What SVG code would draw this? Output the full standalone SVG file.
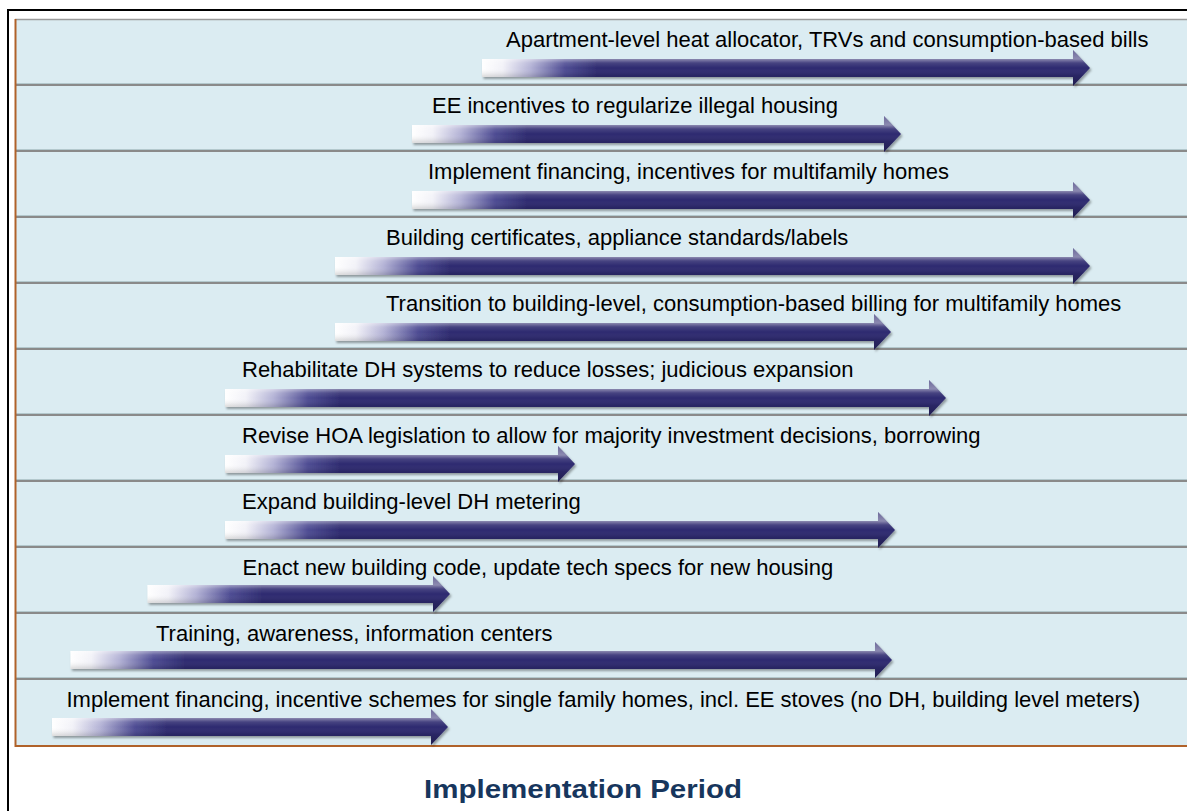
<svg xmlns="http://www.w3.org/2000/svg" width="1187" height="811" viewBox="0 0 1187 811">
<style>
.lbl{font-family:"Liberation Sans",Arial,sans-serif;font-size:22px;fill:#000}
.title{font-family:"Liberation Sans",Arial,sans-serif;font-size:26.5px;font-weight:bold;fill:#17365D}
.sep{stroke:#8A8A8A;stroke-width:2}
.sepl{stroke:#B3C8CD;stroke-width:1}
.arrow{fill:url(#hgrad);filter:url(#shadow)}
.shade{fill:url(#vgrad)}
</style>
<defs>
<linearGradient id="hgrad" gradientUnits="userSpaceOnUse" x1="0" y1="0" x2="115" y2="0">
<stop offset="0" stop-color="#FFFFFF"/>
<stop offset="0.18" stop-color="#F2F2F8"/>
<stop offset="0.42" stop-color="#B4B3D6"/>
<stop offset="0.72" stop-color="#4E4C93"/>
<stop offset="1" stop-color="#2E2B70"/>
</linearGradient>
<linearGradient id="vgrad" gradientUnits="userSpaceOnUse" x1="0" y1="-18" x2="0" y2="18">
<stop offset="0" stop-color="#FFFFFF" stop-opacity="0.3"/>
<stop offset="0.25" stop-color="#FFFFFF" stop-opacity="0.45"/>
<stop offset="0.36" stop-color="#FFFFFF" stop-opacity="0.12"/>
<stop offset="0.5" stop-color="#FFFFFF" stop-opacity="0"/>
<stop offset="0.7" stop-color="#000000" stop-opacity="0.1"/>
<stop offset="1" stop-color="#000000" stop-opacity="0.3"/>
</linearGradient>
<filter id="shadow" x="-5%" y="-40%" width="110%" height="180%">
<feDropShadow dx="1.5" dy="2" stdDeviation="1.2" flood-color="#000" flood-opacity="0.35"/>
</filter>
</defs>

<!-- outer frame -->
<rect x="0" y="0" width="1187" height="811" fill="#FFFFFF"/>
<line x1="8" y1="10" x2="8" y2="811" stroke="#000" stroke-width="2"/>
<line x1="7" y1="10" x2="1187" y2="10" stroke="#000" stroke-width="2"/>

<!-- panel -->
<g id="panel">
<rect x="15" y="19" width="1180" height="727" fill="#DBECF2"/>
<line x1="15" y1="19.5" x2="1187" y2="19.5" stroke="#9A9A9A" stroke-width="1.5"/>
<line class="sepl" x1="16" y1="83.5" x2="1187" y2="83.5"/>
<line class="sep" x1="16" y1="85" x2="1187" y2="85"/>
<line class="sepl" x1="16" y1="149.5" x2="1187" y2="149.5"/>
<line class="sep" x1="16" y1="151" x2="1187" y2="151"/>
<line class="sepl" x1="16" y1="215.5" x2="1187" y2="215.5"/>
<line class="sep" x1="16" y1="217" x2="1187" y2="217"/>
<line class="sepl" x1="16" y1="281.5" x2="1187" y2="281.5"/>
<line class="sep" x1="16" y1="283" x2="1187" y2="283"/>
<line class="sepl" x1="16" y1="347.5" x2="1187" y2="347.5"/>
<line class="sep" x1="16" y1="349" x2="1187" y2="349"/>
<line class="sepl" x1="16" y1="413.5" x2="1187" y2="413.5"/>
<line class="sep" x1="16" y1="415" x2="1187" y2="415"/>
<line class="sepl" x1="16" y1="479.5" x2="1187" y2="479.5"/>
<line class="sep" x1="16" y1="481" x2="1187" y2="481"/>
<line class="sepl" x1="16" y1="545.5" x2="1187" y2="545.5"/>
<line class="sep" x1="16" y1="547" x2="1187" y2="547"/>
<line class="sepl" x1="16" y1="611.5" x2="1187" y2="611.5"/>
<line class="sep" x1="16" y1="613" x2="1187" y2="613"/>
<line class="sepl" x1="16" y1="677.5" x2="1187" y2="677.5"/>
<line class="sep" x1="16" y1="679" x2="1187" y2="679"/>
<line x1="15.5" y1="19" x2="15.5" y2="747" stroke="#B0622A" stroke-width="2"/>
<line x1="15" y1="746" x2="1187" y2="746" stroke="#B0622A" stroke-width="2"/>
</g>

<g id="connectors"></g>

<g id="row0">
<g transform="translate(482,68)"><path class="arrow" d="M0,-9 H591 V-18 L608,0 L591,18 V9 H0 Z"/><path class="shade" d="M0,-9 H591 V-18 L608,0 L591,18 V9 H0 Z"/></g>
<text class="lbl" x="506" y="47">Apartment-level heat allocator, TRVs and consumption-based bills</text>
</g>
<g id="row1">
<g transform="translate(412,134)"><path class="arrow" d="M0,-9 H472 V-18 L489,0 L472,18 V9 H0 Z"/><path class="shade" d="M0,-9 H472 V-18 L489,0 L472,18 V9 H0 Z"/></g>
<text class="lbl" x="432" y="113">EE incentives to regularize illegal housing</text>
</g>
<g id="row2">
<g transform="translate(412,200)"><path class="arrow" d="M0,-9 H661 V-18 L678,0 L661,18 V9 H0 Z"/><path class="shade" d="M0,-9 H661 V-18 L678,0 L661,18 V9 H0 Z"/></g>
<text class="lbl" x="428" y="179">Implement financing, incentives for multifamily homes</text>
</g>
<g id="row3">
<g transform="translate(335,266)"><path class="arrow" d="M0,-9 H738 V-18 L755,0 L738,18 V9 H0 Z"/><path class="shade" d="M0,-9 H738 V-18 L755,0 L738,18 V9 H0 Z"/></g>
<text class="lbl" x="386" y="245">Building certificates, appliance standards/labels</text>
</g>
<g id="row4">
<g transform="translate(335,332)"><path class="arrow" d="M0,-9 H539 V-18 L556,0 L539,18 V9 H0 Z"/><path class="shade" d="M0,-9 H539 V-18 L556,0 L539,18 V9 H0 Z"/></g>
<text class="lbl" x="386" y="311">Transition to building-level, consumption-based billing for multifamily homes</text>
</g>
<g id="row5">
<g transform="translate(225,398)"><path class="arrow" d="M0,-9 H704 V-18 L721,0 L704,18 V9 H0 Z"/><path class="shade" d="M0,-9 H704 V-18 L721,0 L704,18 V9 H0 Z"/></g>
<text class="lbl" x="242" y="377">Rehabilitate DH systems to reduce losses; judicious expansion</text>
</g>
<g id="row6">
<g transform="translate(225,464)"><path class="arrow" d="M0,-9 H333 V-18 L350,0 L333,18 V9 H0 Z"/><path class="shade" d="M0,-9 H333 V-18 L350,0 L333,18 V9 H0 Z"/></g>
<text class="lbl" x="242" y="443">Revise HOA legislation to allow for majority investment decisions, borrowing</text>
</g>
<g id="row7">
<g transform="translate(225,530)"><path class="arrow" d="M0,-9 H653 V-18 L670,0 L653,18 V9 H0 Z"/><path class="shade" d="M0,-9 H653 V-18 L670,0 L653,18 V9 H0 Z"/></g>
<text class="lbl" x="242" y="509">Expand building-level DH metering</text>
</g>
<g id="row8">
<g transform="translate(147.5,594)"><path class="arrow" d="M0,-9 H285.5 V-18 L302.5,0 L285.5,18 V9 H0 Z"/><path class="shade" d="M0,-9 H285.5 V-18 L302.5,0 L285.5,18 V9 H0 Z"/></g>
<text class="lbl" x="242.5" y="575">Enact new building code, update tech specs for new housing</text>
</g>
<g id="row9">
<g transform="translate(70.5,660)"><path class="arrow" d="M0,-9 H804.5 V-18 L821.5,0 L804.5,18 V9 H0 Z"/><path class="shade" d="M0,-9 H804.5 V-18 L821.5,0 L804.5,18 V9 H0 Z"/></g>
<text class="lbl" x="156" y="641">Training, awareness, information centers</text>
</g>
<g id="row10">
<g transform="translate(52,727)"><path class="arrow" d="M0,-9 H379 V-18 L396,0 L379,18 V9 H0 Z"/><path class="shade" d="M0,-9 H379 V-18 L396,0 L379,18 V9 H0 Z"/></g>
<text class="lbl" x="66.5" y="707">Implement financing, incentive schemes for single family homes, incl. EE stoves (no DH, building level meters)</text>
</g>

<g id="title">
<text class="title" x="424" y="798" textLength="318" lengthAdjust="spacingAndGlyphs">Implementation Period</text>
</g>
</svg>
